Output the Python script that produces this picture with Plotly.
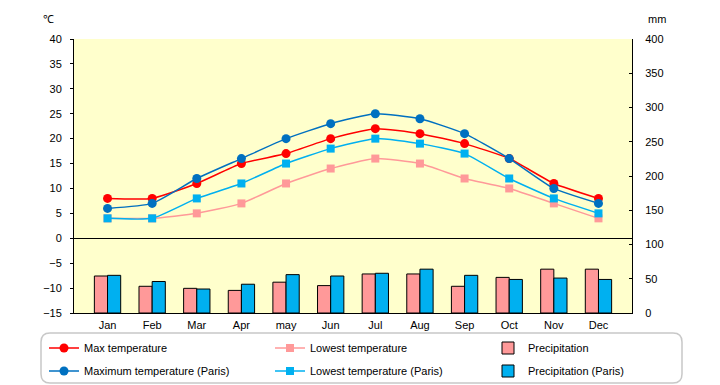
import plotly.graph_objects as go

months = ["Jan", "Feb", "Mar", "Apr", "may", "Jun", "Jul", "Aug", "Sep", "Oct", "Nov", "Dec"]
max_temp = [8, 8, 11, 15, 17, 20, 22, 21, 19, 16, 11, 8]
low_temp = [4, 4, 5, 7, 11, 14, 16, 15, 12, 10, 7, 4]
precip = [54, 39, 36, 33, 45, 40, 57, 57, 39, 52, 64, 64]
max_paris = [6, 7, 12, 16, 20, 23, 25, 24, 21, 16, 10, 7]
low_paris = [4, 4, 8, 11, 15, 18, 20, 19, 17, 12, 8, 5]
precip_paris = [55, 46, 35, 42, 56, 54, 58, 64, 55, 49, 51, 49]

OFF = 8  # page body margin
W, H = 720 - OFF, 385 - OFF
L, R, T, B = 74 - OFF, 88, 39 - OFF, 72
PW, PH = W - L - R, H - T - B


def px(x):
    return (x - OFF - L) / PW


def py(y):
    return (T + PH - (y - OFF)) / PH


FONT = "Liberation Sans"
fig = go.Figure()

fig.add_trace(go.Scatter(x=months, y=max_temp, name="Max temperature", mode="lines+markers",
                         line=dict(color="#FF0000", width=1.5, shape="spline", smoothing=0.5),
                         marker=dict(symbol="circle", size=9, color="#FF0000"), legend="legend"))
fig.add_trace(go.Scatter(x=months, y=low_temp, name="Lowest temperature", mode="lines+markers",
                         line=dict(color="#FF9999", width=1.5, shape="spline", smoothing=0.5),
                         marker=dict(symbol="square", size=8, color="#FF9999"), legend="legend2"))
fig.add_trace(go.Bar(x=months, y=precip, name="Precipitation", yaxis="y2",
                     marker=dict(color="#FF9999", line=dict(color="black", width=1)), legend="legend3"))
fig.add_trace(go.Scatter(x=months, y=max_paris, name="Maximum temperature (Paris)", mode="lines+markers",
                         line=dict(color="#0070C0", width=1.5, shape="spline", smoothing=0.5),
                         marker=dict(symbol="circle", size=9, color="#0070C0"), legend="legend4"))
fig.add_trace(go.Scatter(x=months, y=low_paris, name="Lowest temperature (Paris)", mode="lines+markers",
                         line=dict(color="#00B0F0", width=1.5, shape="spline", smoothing=0.5),
                         marker=dict(symbol="square", size=8, color="#00B0F0"), legend="legend5"))
fig.add_trace(go.Bar(x=months, y=precip_paris, name="Precipitation (Paris)", yaxis="y2",
                     marker=dict(color="#00B0F0", line=dict(color="black", width=1)), legend="legend6"))

x0, x1 = px(41), px(682)
yt, yb = py(333), py(383)
rx, ry = 9 / PW, 9 / PH
path = (f"M {x0+rx},{yt} L {x1-rx},{yt} Q {x1},{yt} {x1},{yt-ry} L {x1},{yb+ry} "
        f"Q {x1},{yb} {x1-rx},{yb} L {x0+rx},{yb} Q {x0},{yb} {x0},{yb+ry} "
        f"L {x0},{yt-ry} Q {x0},{yt} {x0+rx},{yt} Z")


def leg(xp, yp):
    return dict(visible=True, orientation="v", xanchor="left", yanchor="middle", x=px(xp), y=py(yp),
                font=dict(family=FONT, size=11, color="black"), bgcolor="rgba(0,0,0,0)",
                borderwidth=0)


col_x = [44, 270, 488]
row_y = [348, 371]

fig.update_layout(
    width=W, height=H, showlegend=True,
    margin=dict(l=L, r=R, t=T, b=B, autoexpand=False),
    paper_bgcolor="white", plot_bgcolor="#FFFFCC",
    font=dict(family=FONT, size=11, color="black"),
    barmode="group", bargap=0.41, bargroupgap=0,
    xaxis=dict(type="category", showline=True, linecolor="black", linewidth=1, ticks="",
               showgrid=False, tickfont=dict(size=11), ticklabelstandoff=2),
    yaxis=dict(range=[-15, 40], dtick=5, showline=True, linecolor="black", linewidth=1,
               ticks="outside", ticklen=3, tickcolor="black", showgrid=False,
               zeroline=True, zerolinecolor="black", zerolinewidth=1, ticklabelstandoff=6),
    yaxis2=dict(range=[0, 400], dtick=50, overlaying="y", side="right", showline=True,
                linecolor="black", linewidth=1, ticks="inside", ticklen=3, tickcolor="black",
                showgrid=False, zeroline=False, ticklabelstandoff=10),
    legend=leg(col_x[0], row_y[0]),
    legend2=leg(col_x[1], row_y[0]),
    legend3=leg(col_x[2], row_y[0]),
    legend4=leg(col_x[0], row_y[1]),
    legend5=leg(col_x[1], row_y[1]),
    legend6=leg(col_x[2], row_y[1]),
    shapes=[dict(type="path", xref="paper", yref="paper", path=path,
                 line=dict(color="#C8C8C8", width=1.5), fillcolor="rgba(0,0,0,0)")],
    annotations=[
        dict(text="℃", xref="paper", yref="paper", x=px(48), y=py(19), showarrow=False,
             xanchor="center", yanchor="middle", font=dict(size=11)),
        dict(text="mm", xref="paper", yref="paper", x=px(657), y=py(19), showarrow=False,
             xanchor="center", yanchor="middle", font=dict(size=11)),
    ],
)

fig.write_html("out.html")
